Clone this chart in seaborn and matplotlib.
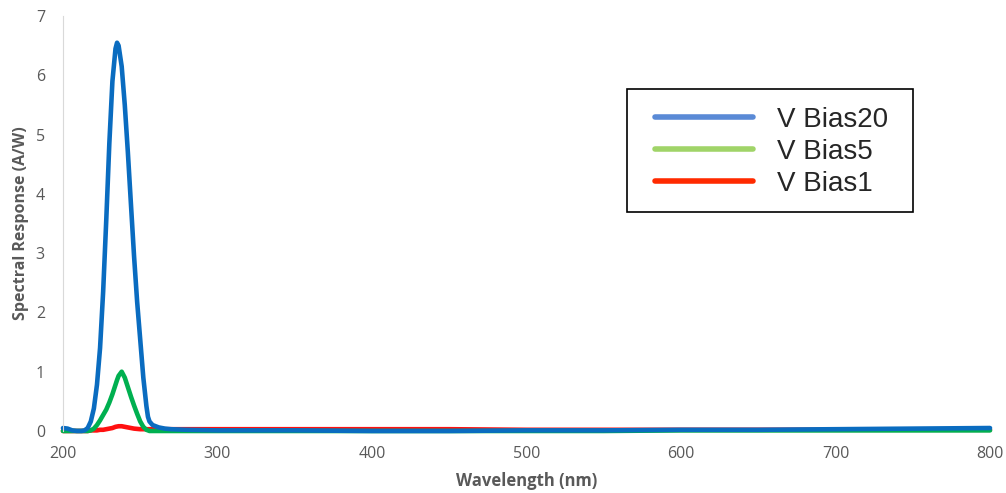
import numpy as np
import pandas as pd
import matplotlib
matplotlib.use("Agg")
import matplotlib.pyplot as plt
import seaborn as sns
from matplotlib.lines import Line2D
from matplotlib.patches import Rectangle

# wavelength grid (nm), dense around the UV peak
wavelength = [200, 203, 206, 209, 212, 214, 216, 218, 220, 222, 224, 226, 228, 230,
              232, 234, 235, 236, 238, 240, 242, 244, 246, 248, 250, 252, 254, 255,
              256, 258, 262, 266, 270, 280, 300, 350, 400, 450, 500, 550, 600, 650,
              700, 750, 800]

# spectral response (A/W)
bias20 = [0.05, 0.04, 0.01, 0.0, 0.0, 0.01, 0.05, 0.16, 0.38, 0.78, 1.40, 2.35, 3.55, 4.85,
          5.90, 6.45, 6.55, 6.50, 6.15, 5.50, 4.70, 3.82, 2.95, 2.18, 1.54, 0.90, 0.42, 0.24,
          0.16, 0.10, 0.06, 0.04, 0.03, 0.02, 0.01, 0.01, 0.0, 0.0, 0.01, 0.01, 0.02, 0.02,
          0.03, 0.04, 0.05]
bias5 = [0.0, 0.0, 0.0, 0.0, 0.0, 0.0, 0.0, 0.01, 0.04, 0.10, 0.18, 0.27, 0.36, 0.48,
         0.62, 0.78, 0.86, 0.93, 1.0, 0.90, 0.74, 0.58, 0.43, 0.29, 0.16, 0.07, 0.02, 0.01,
         0.0, 0.0, 0.0, 0.0, 0.0, 0.0, 0.0, 0.0, 0.0, 0.0, 0.0, 0.0, 0.01, 0.01,
         0.01, 0.01, 0.01]
bias1 = [0.0, 0.0, 0.0, 0.0, 0.0, 0.0, 0.0, 0.01, 0.01, 0.01, 0.02, 0.02, 0.03, 0.04,
         0.05, 0.07, 0.075, 0.08, 0.08, 0.07, 0.06, 0.05, 0.04, 0.035, 0.03, 0.03, 0.03, 0.03,
         0.03, 0.03, 0.03, 0.03, 0.03, 0.03, 0.03, 0.03, 0.03, 0.03, 0.02, 0.02, 0.02, 0.02,
         0.02, 0.02, 0.02]

series_names = ["V Bias20", "V Bias5", "V Bias1"]
line_colors = ["#0A6CC0", "#00B050", "#FF1010"]
legend_colors = ["#5A8AD6", "#A0D468", "#FF2A00"]

df = pd.DataFrame({
    "Wavelength (nm)": wavelength * 3,
    "Spectral Response (A/W)": bias20 + bias5 + bias1,
    "series": [series_names[0]] * len(wavelength) + [series_names[1]] * len(wavelength)
              + [series_names[2]] * len(wavelength),
})

sns.set_style("white")
plt.rcParams["font.family"] = ["Open Sans", "DejaVu Sans"]

fig = plt.figure(figsize=(10.06, 4.93), dpi=100)
ax = fig.add_axes([0.0626, 0.1258, 0.9215, 0.8417])

# draw red first, blue last so blue sits on top
sns.lineplot(data=df, x="Wavelength (nm)", y="Spectral Response (A/W)", hue="series",
             hue_order=series_names[::-1], palette=dict(zip(series_names, line_colors)),
             sort=False, linewidth=3.3, legend=False, ax=ax, clip_on=False)

ax.set_xlim(200, 800)
ax.set_ylim(0, 7)
ax.set_xticks([200, 300, 400, 500, 600, 700, 800])
ax.set_yticks(range(0, 8))
ax.tick_params(axis="both", length=0, labelsize=11.5, labelcolor="#595959")
ax.tick_params(axis="x", pad=11)
ax.tick_params(axis="y", pad=13)

for side in ["top", "right", "bottom"]:
    ax.spines[side].set_visible(False)
ax.spines["left"].set_color("#D9D9D9")
ax.spines["left"].set_linewidth(0.8)

ax.set_xlabel("Wavelength (nm)", fontsize=12, fontweight="bold", color="#595959", labelpad=7)
ax.set_ylabel("Spectral Response (A/W)", fontsize=11.5, fontweight="bold", color="#595959", labelpad=5)

# legend box is wider than the entries need, so draw the frame separately
ax.add_patch(Rectangle((0.6233, 0.5700), 0.2843, 0.2495, transform=fig.transFigure,
                       facecolor="white", edgecolor="black", linewidth=1.2, zorder=3,
                       clip_on=False))
handles = [Line2D([0], [0], color=c, linewidth=4) for c in legend_colors]
leg = ax.legend(handles, series_names, loc="upper left", bbox_to_anchor=(0.6511, 0.7830),
                bbox_transform=fig.transFigure, frameon=False,
                prop={"family": "Liberation Sans", "size": 20}, handlelength=3.52,
                handletextpad=0.86, labelspacing=0.21, borderpad=0, borderaxespad=0)
leg.set_zorder(5)

fig.savefig("out.png", dpi=100)
